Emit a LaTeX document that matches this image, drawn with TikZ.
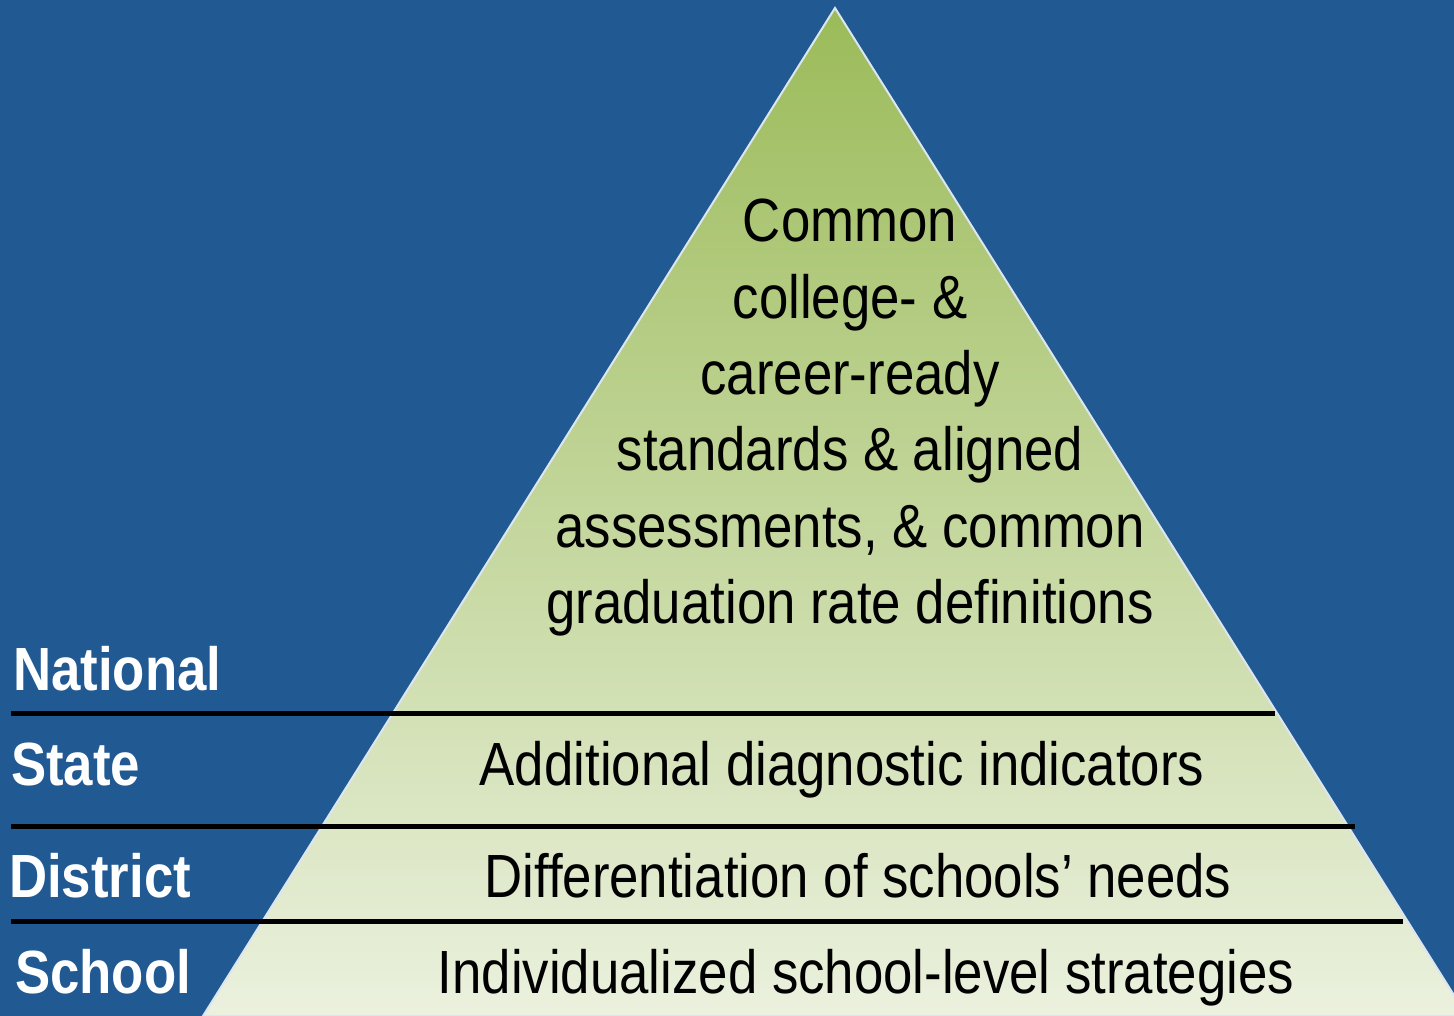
\documentclass[tikz,border=0pt]{standalone}
\usepackage{fontspec}
\setmainfont{Liberation Sans}[FakeStretch=0.865]
\definecolor{bgblue}{HTML}{215A93}
\definecolor{topgreen}{HTML}{9BBB59}
\definecolor{botgreen}{HTML}{EBF1DE}
\definecolor{edgecol}{HTML}{DCE6F2}
\tikzset{
  divider/.style={line width=5pt, black},
  toptext/.style={align=center, inner sep=0pt, text=black, font=\fontsize{61}{76.4}\selectfont},
  rowtext/.style={anchor=base, inner sep=0pt, text=black, font=\fontsize{61}{76}\selectfont},
  lvl/.style={anchor=base west, inner sep=0pt, text=white, font=\fontsize{61}{76}\selectfont\bfseries},
}
\begin{document}
\begin{tikzpicture}[x=1pt,y=-1pt]
\useasboundingbox (0,0) rectangle (1454,1016);
\fill[bgblue] (0,0) rectangle (1454,1016);
\clip (0,0) rectangle (1454,1016);
\coordinate (apex) at (835,8);
\coordinate (bl) at (203,1016);
\coordinate (br) at (1467,1016);
\shade[top color=topgreen, bottom color=botgreen, draw=edgecol, line width=2pt] (apex) -- (bl) -- (br) -- cycle;
% dividers
\coordinate (l1a) at (11,713);  \coordinate (l1b) at (1275,713);
\coordinate (l2a) at (11,826);  \coordinate (l2b) at (1355,826);
\coordinate (l3a) at (11,921);  \coordinate (l3b) at (1403,921);
\draw[divider] (l1a) -- (l1b);
\draw[divider] (l2a) -- (l2b);
\draw[divider] (l3a) -- (l3b);
% texts
\node[toptext, anchor=north] (natxt) at (850,199) {Common\\college- \&\\career-ready\\standards \& aligned\\assessments, \& common\\graduation rate definitions};
\node[rowtext] (sttxt) at (842,785) {Additional diagnostic indicators};
\node[rowtext] (dttxt) at (858,897) {Differentiation of schools’ needs};
\node[rowtext] (sctxt) at (866,993) {Individualized school-level strategies};
% level labels
\node[lvl] (lnat) at (13,690) {National};
\node[lvl] (lst) at (11,785) {State};
\node[lvl] (ldt) at (9,897) {District};
\node[lvl] (lsc) at (15,993) {School};
\end{tikzpicture}
\end{document}
